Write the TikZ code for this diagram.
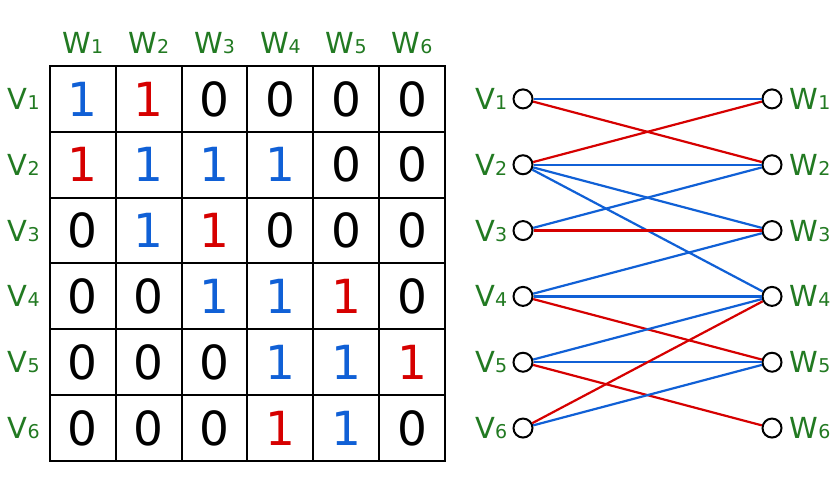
\documentclass[tikz,border=0pt]{standalone}
\usepackage{fontspec}
\setmainfont{DejaVu Sans}
\usetikzlibrary{positioning}
\definecolor{lblgreen}{RGB}{34,122,34}
\definecolor{oneblue}{RGB}{16,96,214}
\definecolor{onered}{RGB}{214,0,0}
\newcommand\vlbl[2]{{\fontsize{29}{29}\selectfont #1}{\fontsize{19}{19}\selectfont #2}}

\begin{document}
\begin{tikzpicture}[x=1pt,y=-1pt]
\tikzset{cell/.style = {draw, line width=2pt, minimum size=65.83pt, inner sep=0pt, font=\fontsize{47}{47}\selectfont},
  vtx/.style = {circle, draw, fill=white, line width=2pt, minimum size=19pt, inner sep=0pt},
  vname/.style = {text=lblgreen, inner sep=0pt},
  eb/.style = {oneblue, line width=2.2pt},
  er/.style = {onered, line width=2.2pt}}
\useasboundingbox[fill=white] (0,0) rectangle (840,494);
% matrix
\foreach \row [count=\i] in {{oneblue/1,onered/1,black/0,black/0,black/0,black/0},
  {onered/1,oneblue/1,oneblue/1,oneblue/1,black/0,black/0},
  {black/0,oneblue/1,onered/1,black/0,black/0,black/0},
  {black/0,black/0,oneblue/1,oneblue/1,onered/1,black/0},
  {black/0,black/0,black/0,oneblue/1,oneblue/1,onered/1},
  {black/0,black/0,black/0,onered/1,oneblue/1,black/0}}
  \foreach \col/\d [count=\j] in \row
    \node[cell, text=\col] (m-\i-\j) at (17.08+65.83*\j, 33.08+65.83*\i) {\d};
\foreach \i in {1,...,6} {
  \node[vname, anchor=east] (r\i) at (40, 33.08+65.83*\i) {\vlbl{V}{\i}};
  \node[vname] (c\i) at (17.08+65.83*\i, 43) {\vlbl{W}{\i}};
}
% graph
\foreach \i in {1,...,6} {
  \node[vtx] (v\i) at (523, 33.08+65.83*\i) {};
  \node[vtx] (w\i) at (772, 33.08+65.83*\i) {};
  \node[vname, left=5pt of v\i] (lv\i) {\vlbl{V}{\i}};
  \node[vname, right=7pt of w\i] (lw\i) {\vlbl{W}{\i}};
}
\foreach \a/\b/\s in {1/1/eb, 1/2/er, 2/1/er, 2/2/eb, 2/3/eb, 2/4/eb, 3/2/eb, 3/3/er,
  4/3/eb, 4/4/eb, 4/5/er, 5/4/eb, 5/5/eb, 5/6/er, 6/4/er, 6/5/eb}
  \draw[\s] (v\a) -- (w\b);
\end{tikzpicture}
\end{document}
